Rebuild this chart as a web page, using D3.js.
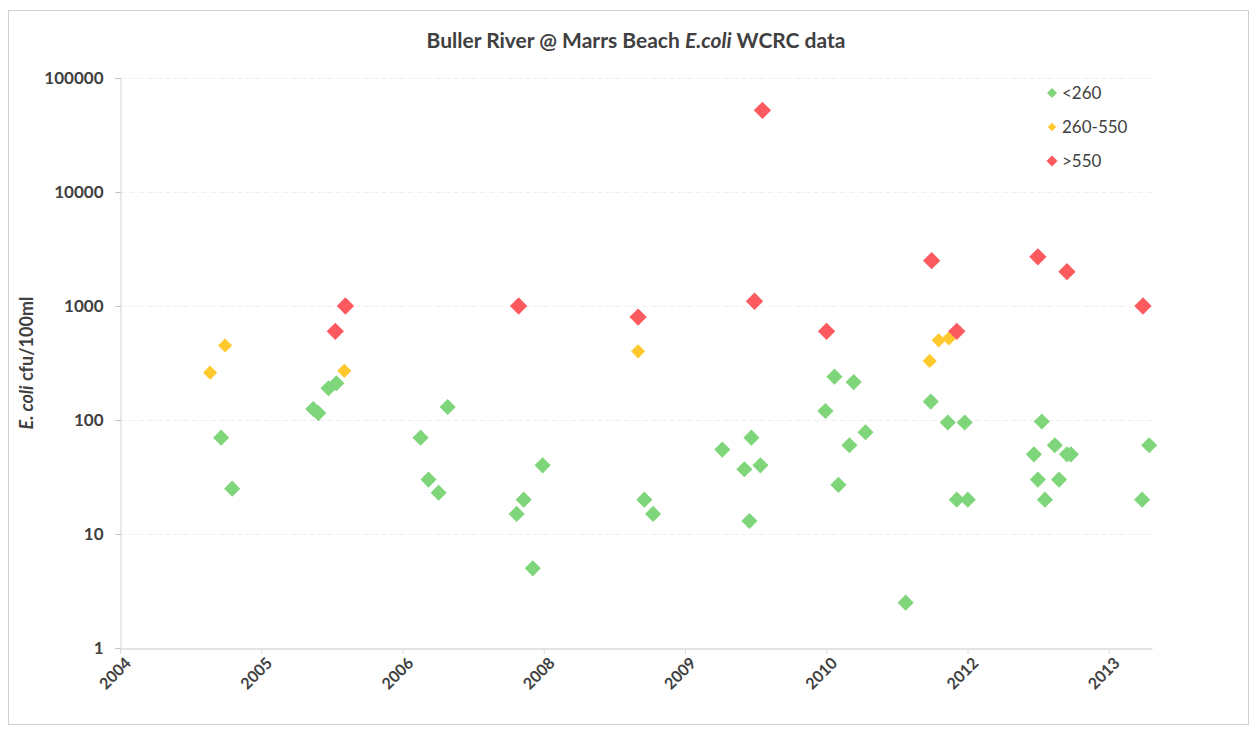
<!DOCTYPE html>
<html>
<head>
<meta charset="utf-8">
<script src="https://cdn.jsdelivr.net/npm/d3@7"></script>
<style>
  body { margin: 0; background: #fff; }
  svg text { font-family: Lato, "Open Sans", sans-serif; fill: #404040; }
</style>
</head>
<body>
<svg id="chart" width="1256" height="730"></svg>
<script>
// x tick positions: Excel date axis, major unit 500 days from 1 Jan 2004
var xTickDates = ['2004-01-01', '2005-05-15', '2006-09-27', '2008-02-09', '2009-06-23', '2010-11-05', '2012-03-19', '2013-08-01'];
var xTickLabels = ['2004', '2005', '2006', '2008', '2009', '2010', '2012', '2013'];
var yTickValues = [1, 10, 100, 1000, 10000, 100000];
var yTickLabels = ['1', '10', '100', '1000', '10000', '100000'];

var seriesNames = ['<260', '260-550', '>550'];
var seriesColors = ['#7ed57a', '#ffc92e', '#fc5a5e'];

var greenDates = ['2004-12-24', '2005-02-01', '2005-11-15', '2005-12-03', '2006-01-08', '2006-02-05',
  '2006-11-30', '2006-12-28', '2007-02-02', '2007-03-06', '2007-11-05', '2007-11-30', '2008-01-01',
  '2008-02-05', '2009-01-30', '2009-03-02', '2009-11-02', '2010-01-19', '2010-02-06', '2010-02-13',
  '2010-03-17', '2010-11-02', '2010-12-04', '2010-12-18', '2011-01-26', '2011-02-10', '2011-03-24',
  '2011-08-13', '2011-11-10', '2012-01-09', '2012-02-10', '2012-03-09', '2012-03-20', '2012-11-09',
  '2012-11-23', '2012-12-07', '2012-12-18', '2013-01-22', '2013-02-06', '2013-03-06', '2013-03-20',
  '2013-11-27', '2013-12-22'];
var greenValues = [70, 25, 125, 115, 190, 210,
  70, 30, 23, 130, 15, 20, 5,
  40, 20, 15, 55, 37, 13, 70,
  40, 120, 240, 27, 60, 215, 78,
  2.5, 145, 95, 20, 95, 20, 50,
  30, 97, 20, 60, 30, 50, 50,
  20, 60];

var yellowDates = ['2004-11-15', '2005-01-07', '2006-03-05', '2009-01-08', '2011-11-06', '2011-12-08', '2012-01-13'];
var yellowValues = [260, 450, 270, 400, 330, 500, 520];

var redDates = ['2006-02-01', '2006-03-09', '2007-11-12', '2009-01-08', '2010-02-24', '2010-03-24',
  '2010-11-06', '2011-11-13', '2012-02-10', '2012-11-23', '2013-03-06', '2013-11-30'];
var redValues = [600, 1000, 1000, 800, 1100, 52000,
  600, 2500, 600, 2700, 2000, 1000];

var parse = d3.timeParse('%Y-%m-%d');

function makeSeries(dates, values) {
  return dates.map(function(d, i) { return { date: parse(d), value: values[i] }; });
}

var series = [
  makeSeries(greenDates, greenValues),
  makeSeries(yellowDates, yellowValues),
  makeSeries(redDates, redValues)
];

var margin = { left: 120, right: 104, top: 78, bottom: 82 };
var W = 1256, H = 730;

var svg = d3.select('#chart');

// outer chart frame (faint, scanned)
svg.append('rect')
  .attr('x', 8.5).attr('y', 10.5)
  .attr('width', 1240).attr('height', 714)
  .attr('fill', 'none')
  .attr('stroke', '#d0d0d0');

var x = d3.scaleTime()
  .domain([parse('2004-01-01'), parse('2014-01-01')])
  .range([margin.left, W - margin.right]);

var y = d3.scaleLog()
  .domain([1, 100000])
  .range([H - margin.bottom, margin.top]);

// gridlines
svg.append('g')
  .selectAll('line')
  .data(yTickValues.slice(1))
  .enter()
  .append('line')
  .attr('x1', x.range()[0]).attr('x2', x.range()[1])
  .attr('y1', function(d) { return Math.round(y(d)) + 0.5; })
  .attr('y2', function(d) { return Math.round(y(d)) + 0.5; })
  .attr('stroke', '#f0f0f0')
  .attr('stroke-dasharray', '6,3');

// y axis
var yAxis = svg.append('g')
  .attr('transform', 'translate(' + (margin.left + 0.5) + ',0)')
  .call(d3.axisLeft(y)
    .tickValues(yTickValues)
    .tickFormat(function(d, i) { return yTickLabels[i]; })
    .tickSize(5)
    .tickPadding(12));
yAxis.select('.domain').attr('stroke', '#d0d0d0');
yAxis.selectAll('.tick line').attr('stroke', '#c0c0c0');
yAxis.selectAll('.tick text')
  .style('font-size', '17px')
  .style('font-weight', 'bold')
  .attr('fill', '#404040');

// x axis
var xAxis = svg.append('g')
  .attr('transform', 'translate(0,' + (H - margin.bottom + 0.5) + ')')
  .call(d3.axisBottom(x)
    .tickValues(xTickDates.map(parse))
    .tickFormat(function(d, i) { return xTickLabels[i]; })
    .tickSize(5)
    .tickSizeOuter(0));
xAxis.select('.domain').attr('stroke', '#e4e4e4').attr('stroke-width', 2);
xAxis.selectAll('.tick line').attr('stroke', '#d8d8d8');
xAxis.selectAll('.tick text')
  .style('font-size', '16px')
  .style('font-weight', 'bold')
  .attr('fill', '#404040')
  .attr('text-anchor', 'end')
  .attr('dy', null)
  .attr('transform', 'translate(6,10) rotate(-45)');

// points
var diamond = d3.symbol().type(d3.symbolSquare);
var markerSizes = [130, 100, 150];

series.forEach(function(s, k) {
  svg.append('g')
    .selectAll('path')
    .data(s)
    .enter()
    .append('path')
    .attr('d', diamond.size(markerSizes[k])())
    .attr('transform', function(d) {
      return 'translate(' + x(d.date) + ',' + y(d.value) + ') rotate(45)';
    })
    .attr('fill', seriesColors[k]);
});

// title
var title = svg.append('text')
  .attr('x', 636).attr('y', 48)
  .attr('text-anchor', 'middle')
  .style('font-size', '21px')
  .style('font-weight', 'bold');
title.append('tspan').text('Buller River @ Marrs Beach ');
title.append('tspan').style('font-style', 'italic').text('E.coli');
title.append('tspan').text(' WCRC data');

// y axis title
var yTitle = svg.append('text')
  .attr('transform', 'translate(33,363) rotate(-90)')
  .attr('text-anchor', 'middle')
  .style('font-size', '18px')
  .style('font-weight', 'bold');
yTitle.append('tspan').style('font-style', 'italic').text('E. coli');
yTitle.append('tspan').text(' cfu/100ml');

// legend
var legendSizes = [50, 36, 60];
var legend = svg.append('g')
  .selectAll('g')
  .data(seriesNames)
  .enter()
  .append('g')
  .attr('transform', function(d, i) { return 'translate(1052,' + (93 + i * 34) + ')'; });
legend.append('path')
  .attr('d', function(d, i) { return diamond.size(legendSizes[i])(); })
  .attr('transform', 'rotate(45)')
  .attr('fill', function(d, i) { return seriesColors[i]; });
legend.append('text')
  .attr('x', 10)
  .attr('dy', '0.35em')
  .style('font-size', '17px')
  .text(function(d) { return d; });
</script>
</body>
</html>
